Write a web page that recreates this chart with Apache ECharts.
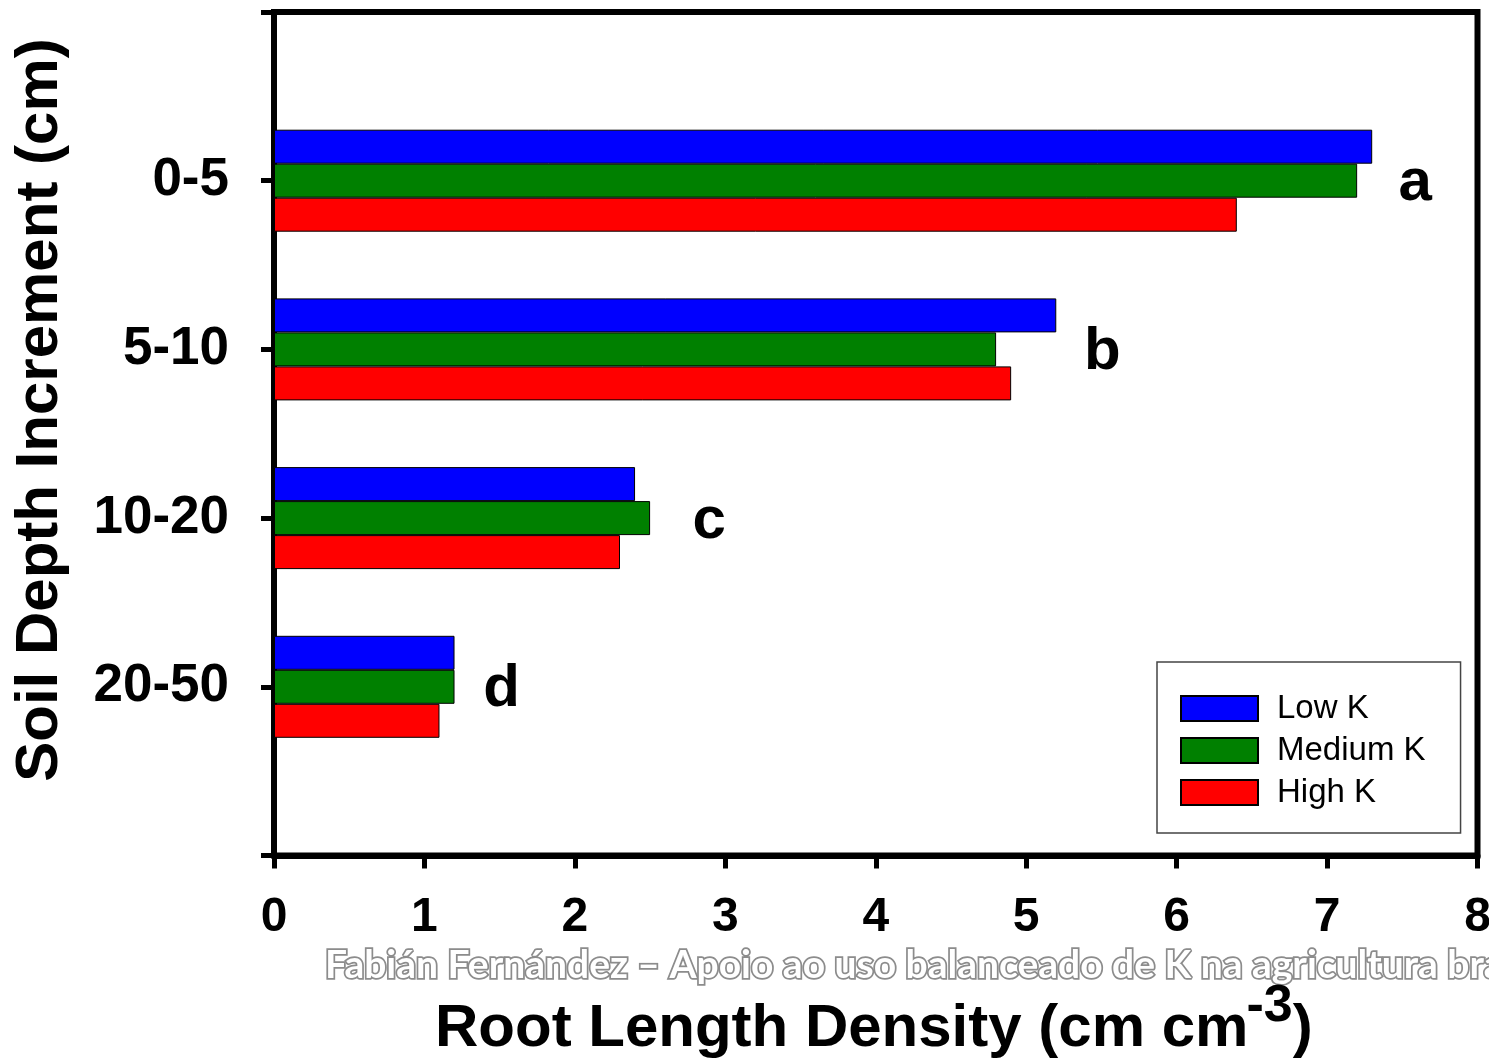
<!DOCTYPE html>
<html>
<head>
<meta charset="utf-8">
<script src="https://cdn.jsdelivr.net/npm/echarts@6/dist/echarts.min.js"></script>
<style>
  html, body { margin: 0; padding: 0; background: #fff; overflow: hidden; }
  #chart { width: 1489px; height: 1061px; }
</style>
</head>
<body>
<div id="chart"></div>
<script>
// Soil depth increments (top to bottom)
const depths = ['0-5', '5-10', '10-20', '20-50'];
// Root length density, cm cm^-3
const lowK = [7.3, 5.2, 2.4, 1.2];
const mediumK = [7.2, 4.8, 2.5, 1.2];
const highK = [6.4, 4.9, 2.3, 1.1];
// Significance letters per depth
const letters = ['a', 'b', 'c', 'd'];
// x axis ticks
const xTicks = [0, 1, 2, 3, 4, 5, 6, 7, 8];

const FONT = '"Liberation Sans", Arial, sans-serif';

// Padding slots above and below so the depths sit one step in from the frame
const yCats = [''].concat(depths, ['']);
const pad = arr => ['-'].concat(arr, ['-']);

// horizontal gap (px) between longest bar of a depth and its letter
const letterGap = [43, 46, 59, 47];

const chart = echarts.init(document.getElementById('chart'), null, { renderer: 'canvas' });

function barSeries(name, data, color) {
  return {
    name: name,
    type: 'bar',
    data: pad(data),
    barWidth: 34,
    barGap: '0%',
    itemStyle: { color: color, borderColor: '#000', borderWidth: 1 },
    emphasis: { disabled: true },
    animation: false
  };
}

// measure text for the composed x axis title
const ctx = document.createElement('canvas').getContext('2d');
function textWidth(str, font) { ctx.font = font; return ctx.measureText(str).width; }

const titleMain = 'Root Length Density (cm cm';
const mainFont = 'bold 60px ' + FONT;
const supFont = 'bold 52px ' + FONT;
const titleLeft = 435;
const mainW = textWidth(titleMain, mainFont);
const supW = textWidth('-3', supFont);

const option = {
  animation: false,
  backgroundColor: '#fff',
  grid: {
    left: 274, right: 11.5, top: 12, bottom: 205.5,
    outerBoundsMode: 'none',
    containLabel: false,
    show: true, borderColor: '#000', borderWidth: 6, backgroundColor: 'transparent'
  },
  xAxis: {
    type: 'value',
    min: xTicks[0], max: xTicks[xTicks.length - 1], interval: 1,
    axisLine: { show: true, lineStyle: { color: '#000', width: 6 } },
    axisTick: { show: true, length: 13, lineStyle: { color: '#000', width: 5 } },
    splitLine: { show: false },
    axisLabel: { fontFamily: FONT, fontWeight: 'bold', fontSize: 48, color: '#000', margin: 38 }
  },
  yAxis: {
    type: 'category',
    data: yCats,
    inverse: true,
    boundaryGap: false,
    axisLine: { show: true, lineStyle: { color: '#000', width: 6 } },
    axisTick: { show: true, length: 13, interval: 0, lineStyle: { color: '#000', width: 5 } },
    splitLine: { show: false },
    axisLabel: { fontFamily: FONT, fontWeight: 'bold', fontSize: 53, color: '#000', margin: 45, interval: 0 }
  },
  legend: {
    orient: 'vertical',
    left: 1157, top: 662,
    backgroundColor: '#fff',
    borderColor: '#444', borderWidth: 1.5,
    padding: [30, 35, 24, 23],
    icon: 'rect',
    itemWidth: 77, itemHeight: 25, itemGap: 9,
    selectedMode: false,
    textStyle: { fontFamily: FONT, fontSize: 33, color: '#000', lineHeight: 25, padding: [0, 0, 0, 14] },
    data: ['Low K', 'Medium K', 'High K']
  },
  series: [
    barSeries('Low K', lowK, '#0000ff'),
    barSeries('Medium K', mediumK, '#008000'),
    barSeries('High K', highK, '#ff0000'),
    {
      // significance letters placed beside the longest bar of each depth
      type: 'custom',
      silent: true,
      data: depths.map((d, i) => [Math.max(lowK[i], mediumK[i], highK[i]), i + 1, i]),
      encode: { x: 0, y: 1 },
      renderItem: function (params, api) {
        const p = api.coord([api.value(0), api.value(1)]);
        const i = api.value(2);
        return {
          type: 'text',
          x: p[0] + letterGap[i], y: p[1] + 3,
          style: {
            text: letters[i], fontFamily: FONT, fontWeight: 'bold', fontSize: 60,
            fill: '#000', align: 'center', verticalAlign: 'middle'
          }
        };
      }
    }
  ],
  graphic: [
    {
      type: 'text', x: 40, y: 410, rotation: Math.PI / 2,
      style: { text: 'Soil Depth Increment (cm)', font: mainFont, fill: '#000', align: 'center', verticalAlign: 'middle' }
    },
    {
      type: 'text', x: 325, y: 965, z: 10,
      style: {
        text: 'Fabián Fernández – Apoio ao uso balanceado de K na agricultura brasileira',
        fontFamily: 'Lato, "Open Sans", sans-serif', fontWeight: 'bold', fontSize: 39,
        fill: '#fff', stroke: '#8c8c8c', lineWidth: 3.5,
        shadowBlur: 3, shadowColor: 'rgba(0,0,0,0.35)',
        align: 'left', verticalAlign: 'middle'
      }
    },
    {
      type: 'text', x: titleLeft, y: 1029,
      style: { text: titleMain, font: mainFont, fill: '#000', align: 'left', verticalAlign: 'middle' }
    },
    {
      type: 'text', x: titleLeft + mainW - 2, y: 1007, z: 11,
      style: { text: '-3', font: supFont, fill: '#000', align: 'left', verticalAlign: 'middle' }
    },
    {
      type: 'text', x: titleLeft + mainW + supW - 2, y: 1029,
      style: { text: ')', font: mainFont, fill: '#000', align: 'left', verticalAlign: 'middle' }
    }
  ]
};

chart.setOption(option);
</script>
</body>
</html>
